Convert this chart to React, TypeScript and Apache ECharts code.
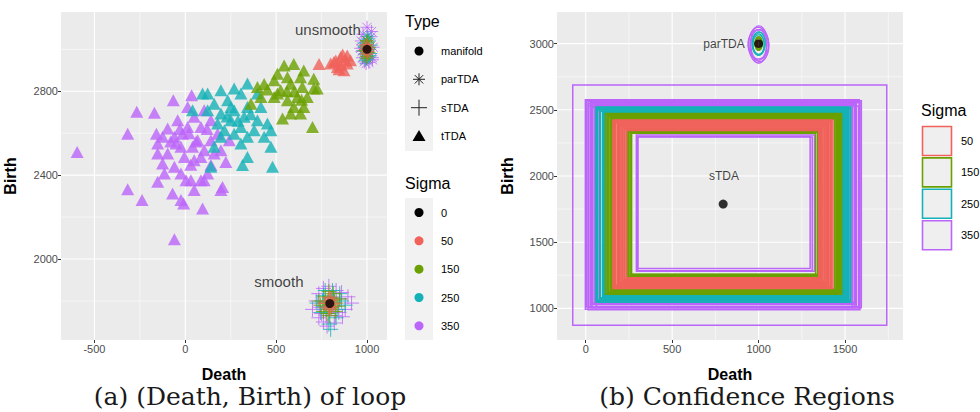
import React, { useEffect, useRef } from "react";
import * as echarts from "echarts";

// ---------- colours ----------
const SIGMA_COLORS: Record<string, string> = {
  "50": "#F0625A",
  "150": "#6AA000",
  "250": "#14B1B7",
  "350": "#BC65FA",
};
const FONT = "'Liberation Sans', Arial, sans-serif";

// ---------- axes / ticks ----------
const leftXTicks = [-500, 0, 500, 1000];
const leftXMinor = [-250, 250, 750];
const leftYTicks = [2000, 2400, 2800];
const leftYMinor = [1800, 2200, 2600, 3000];
const rightXTicks = [0, 500, 1000, 1500];
const rightXMinor = [250, 750, 1250, 1750];
const rightYTicks = [1000, 1500, 2000, 2500, 3000];
const rightYMinor = [1250, 1750, 2250, 2750];
const leftXRange = [-684, 1110];
const leftYRange = [1614, 3178];
const rightXRange = [-166, 1835];
const rightYRange = [761, 3239];

// ---------- panel (a): tTDA triangles (Death, Birth) ----------
const tTDA_350 = [
  [-595, 2511], [-317, 2598], [-267, 2702], [-170, 2697], [-66, 2757], [35, 2781], [-317, 2333], [-238, 2281],
  [-60, 2094], [-159, 2598], [-152, 2368], [-115, 2408], [-97, 2622], [-70, 2313], [-24, 2281], [-9, 2265],
  [49, 2329], [95, 2241], [196, 2329], [205, 2344], [49, 2471], [31, 2376], [86, 2376], [123, 2408],
  [141, 2448], [223, 2463], [196, 2519], [13, 2725], [-42, 2662], [-15, 2598], [-51, 2551], [-152, 2551],
  [-152, 2503], [-97, 2503], [-125, 2456], [-60, 2440], [-5, 2487], [68, 2567], [86, 2630], [13, 2630],
  [141, 2567], [104, 2519], [178, 2598], [141, 2662], [-60, 2583], [40, 2535], [-24, 2535], [86, 2487],
  [159, 2503], [242, 2567], [49, 2678], [104, 2709], [-125, 2583], [-24, 2408], [4, 2376], [104, 2376],
  [20, 2600], [60, 2560], [-30, 2620], [120, 2620], [30, 2450], [-80, 2560],
];
const tTDA_250 = [
  [40, 2710], [95, 2789], [196, 2805], [269, 2813], [342, 2837], [306, 2789], [233, 2757], [159, 2741],
  [123, 2710], [196, 2694], [269, 2710], [342, 2725], [416, 2725], [397, 2662], [324, 2678], [251, 2662],
  [178, 2646], [306, 2630], [379, 2614], [452, 2646], [471, 2614], [342, 2583], [434, 2583], [306, 2551],
  [159, 2535], [471, 2535], [342, 2487], [315, 2448], [480, 2440], [141, 2440], [215, 2614], [251, 2725],
  [397, 2789], [123, 2789], [269, 2598], [196, 2583], [230, 2680], [290, 2660], [360, 2690],
];
const tTDA_150 = [
  [361, 2741], [397, 2820], [434, 2835], [507, 2883], [544, 2923], [597, 2930], [652, 2899], [707, 2860],
  [707, 2813], [644, 2820], [580, 2836], [525, 2805], [489, 2773], [562, 2757], [617, 2773], [671, 2773],
  [597, 2725], [634, 2694], [580, 2694], [535, 2670], [700, 2630], [452, 2808], [507, 2789], [562, 2867],
  [634, 2867], [416, 2773], [489, 2852], [652, 2725], [726, 2813], [600, 2800], [560, 2800], [640, 2760],
];
const tTDA_50 = [
  [736, 2930], [818, 2940], [855, 2963], [891, 2971], [837, 2916], [891, 2932], [873, 2900], [909, 2948],
  [800, 2932], [855, 2924], [828, 2947], [882, 2947], [846, 2905], [866, 2975],
];

// ---------- panel (a): parTDA stars ----------
const parTDA_350 = [
  [968, 3040], [1030, 2960], [985, 2940], [1022, 3060], [1000, 3105], [972, 2990], [1034, 3010],
  [995, 2932], [1015, 3000], [978, 3072], [1030, 2950], [990, 3020], [1010, 2938], [965, 3005],
  [1025, 3085], [975, 2960],
];
const parTDA_250 = [
  [982, 3030], [1020, 2980], [995, 2955], [1010, 3050], [976, 2995], [1024, 3020], [990, 2948],
  [1004, 3062], [985, 3010], [1015, 2970], [1000, 3040], [1005, 2965],
];
const parTDA_150 = [
  [990, 3020], [1010, 2985], [995, 2965], [1005, 3035], [986, 2995], [1014, 3010], [1000, 2958], [998, 3042],
  [1004, 3000], [994, 2990],
];
const parTDA_50 = [[995, 3010], [1005, 2990], [1000, 3022], [1000, 2978], [992, 3000], [1008, 3000]];

// ---------- panel (a): sTDA crosses ----------
const sTDA_350 = [
  [700, 1760], [735, 1835], [760, 1700], [790, 1870], [820, 1695], [850, 1810], [880, 1760], [915, 1790],
  [740, 1770], [775, 1730], [830, 1850], [865, 1725], [720, 1800], [805, 1820], [845, 1745], [760, 1860],
  [895, 1820], [780, 1680], [815, 1775], [750, 1740], [770, 1795], [825, 1730], [860, 1840], [735, 1720],
];
const sTDA_250 = [
  [725, 1790], [760, 1825], [790, 1690], [810, 1850], [840, 1760], [860, 1800], [745, 1745], [775, 1760],
  [830, 1720], [800, 1665], [755, 1800], [850, 1835], [820, 1795], [770, 1850], [880, 1780], [790, 1740],
  [815, 1815], [765, 1775],
];
const sTDA_150 = [
  [745, 1780], [770, 1820], [795, 1730], [815, 1835], [840, 1775], [760, 1750], [825, 1750], [785, 1800],
  [805, 1770], [850, 1810], [790, 1845], [735, 1800], [820, 1805], [780, 1740], [800, 1815], [765, 1790],
  [830, 1790], [795, 1760],
];
const sTDA_50 = [
  [780, 1790], [810, 1785], [795, 1762], [795, 1815], [772, 1788], [818, 1790], [790, 1800], [800, 1775],
  [788, 1770], [803, 1805],
];

const manifoldLeft = [[1000, 3000], [795, 1788]];
const annotationsLeft = [
  { name: "unsmooth", value: [785, 3095] },
  { name: "smooth", value: [515, 1895] },
];

// ---------- panel (b): sTDA confidence boxes [death, birth, half-width] ----------
const rects_350 = [
  [833, 1780, 908],
  [790, 1785, 792], [800, 1775, 786], [785, 1790, 780], [810, 1780, 774], [795, 1795, 768], [780, 1770, 762],
  [805, 1788, 756], [790, 1782, 750], [815, 1790, 744], [775, 1778, 740], [800, 1800, 765], [820, 1770, 758],
  [795, 1780, 735], [805, 1792, 748], [785, 1776, 770], [812, 1786, 782],
  [805, 1790, 505], [808, 1795, 515], [800, 1800, 498],
];
const rects_250 = [
  [795, 1785, 736], [800, 1780, 732], [790, 1790, 728], [805, 1785, 724], [785, 1780, 720], [800, 1792, 716],
  [795, 1778, 712], [810, 1788, 708], [790, 1785, 704], [800, 1790, 700], [795, 1782, 696], [805, 1786, 692],
  [798, 1784, 688], [792, 1789, 684], [803, 1783, 680],
];
const rects_150 = [
  [798, 1790, 682], [793, 1786, 678], [802, 1784, 674], [796, 1790, 670], [800, 1788, 666], [795, 1785, 662],
  [803, 1790, 658], [797, 1787, 654], [800, 1783, 650], [795, 1789, 646], [799, 1786, 642],
  [798, 1790, 558], [802, 1792, 553], [796, 1788, 548], [800, 1790, 543], [803, 1793, 538], [797, 1790, 533],
];
const rects_50 = [
  [792, 1788, 556], [794, 1787, 561], [790, 1789, 566], [793, 1788, 571], [791, 1786, 576], [792, 1790, 581],
  [795, 1788, 586], [790, 1787, 591], [793, 1789, 596], [791, 1788, 601], [792, 1786, 606], [794, 1789, 611],
  [790, 1788, 616], [793, 1787, 621], [791, 1790, 626], [792, 1788, 631], [794, 1787, 636],
];

// ---------- panel (b): parTDA confidence ellipses [cx, cy, rx, ry] ----------
const ellipses_350 = [
  [1000, 2990, 58, 135], [995, 3000, 52, 125], [1005, 2985, 55, 120], [1002, 3005, 48, 130],
  [998, 2995, 60, 110], [1000, 2980, 45, 128],
];
const ellipses_250 = [[1000, 3000, 38, 88], [998, 2995, 34, 80], [1002, 3005, 36, 84], [1000, 2990, 32, 76]];
const ellipses_150 = [[1000, 3000, 22, 52], [999, 2998, 19, 46], [1001, 3003, 20, 49], [1000, 3000, 16, 40]];
const ellipses_50 = [[1000, 3000, 10, 24], [1000, 2998, 8, 20]];

const manifoldRight = [[1000, 3000], [795, 1788]];
const annotationsRight = [
  { name: "parTDA", value: [800, 3000] },
  { name: "sTDA", value: [800, 2000] },
];

const typeLegend = ["manifold", "parTDA", "sTDA", "tTDA"];
const sigmaLegendLeft = ["0", "50", "150", "250", "350"];
const sigmaLegendRight = ["50", "150", "250", "350"];
const captions = ["(a) (Death, Birth) of loop", "(b) Confidence Regions"];

const STAR = "path://M0,-10L0,10M-10,0L10,0M-7,-7L7,7M-7,7L7,-7";
const CROSS = "path://M-10,0L10,0M0,-10L0,10";

function gridLineSeries(idx: number, values: number[], dir: "v" | "h", major: boolean, lim: number) {
  return {
    type: "custom",
    xAxisIndex: idx,
    yAxisIndex: idx,
    z: 1,
    silent: true,
    data: values.map((v) => [v]),
    renderItem: (params: any, api: any) => {
      const v = api.value(0);
      const cs = params.coordSys;
      const lw = major ? 1.1 : 0.55;
      if (dir === "v") {
        const x = api.coord([v, lim])[0];
        return { type: "line", shape: { x1: x, y1: cs.y, x2: x, y2: cs.y + cs.height }, style: { stroke: "#ffffff", lineWidth: lw } };
      }
      const y = api.coord([lim, v])[1];
      return { type: "line", shape: { x1: cs.x, y1: y, x2: cs.x + cs.width, y2: y }, style: { stroke: "#ffffff", lineWidth: lw } };
    },
  };
}

function scatter(idx: number, data: number[][], symbol: string, size: any, color: string, stroke: boolean) {
  return {
    type: "scatter",
    xAxisIndex: idx,
    yAxisIndex: idx,
    z: 3,
    silent: true,
    symbol,
    symbolSize: size,
    data,
    itemStyle: stroke
      ? { color: "rgba(0,0,0,0)", borderColor: color, borderWidth: 1 }
      : { color, borderWidth: 0 },
  };
}

function rectSeries(data: number[][], color: string) {
  return {
    type: "custom",
    xAxisIndex: 1,
    yAxisIndex: 1,
    z: 3,
    silent: true,
    encode: { x: 0, y: 1 },
    data,
    renderItem: (_p: any, api: any) => {
      const d = api.value(0), b = api.value(1), c = api.value(2);
      const p1 = api.coord([d - c, b + c]);
      const p2 = api.coord([d + c, b - c]);
      return {
        type: "rect",
        shape: { x: p1[0], y: p1[1], width: p2[0] - p1[0], height: p2[1] - p1[1] },
        style: { fill: "none", stroke: color, lineWidth: 1.5 },
      };
    },
  };
}

function ellipseSeries(data: number[][], color: string) {
  return {
    type: "custom",
    xAxisIndex: 1,
    yAxisIndex: 1,
    z: 3,
    silent: true,
    encode: { x: 0, y: 1 },
    data,
    renderItem: (_p: any, api: any) => {
      const cx = api.value(0), cy = api.value(1), rx = api.value(2), ry = api.value(3);
      const pts: number[][] = [];
      for (let i = 0; i < 48; i++) {
        const t = (i / 48) * Math.PI * 2;
        pts.push(api.coord([cx + rx * Math.cos(t), cy + ry * Math.sin(t)]));
      }
      return { type: "polygon", shape: { points: pts }, style: { fill: "none", stroke: color, lineWidth: 1.1 } };
    },
  };
}

function labelSeries(idx: number, data: any[], fontSize: number) {
  return {
    type: "scatter",
    xAxisIndex: idx,
    yAxisIndex: idx,
    z: 5,
    silent: true,
    symbolSize: 1,
    itemStyle: { color: "rgba(0,0,0,0)" },
    data,
    label: {
      show: true,
      position: "inside",
      formatter: (p: any) => p.name,
      color: "#111",
      fontSize,
      fontFamily: FONT,
    },
  };
}

const tickLabel = (ticks: number[]) => ({
  customValues: ticks,
  formatter: (v: number) => String(v),
  color: "#4D4D4D",
  fontSize: 11,
  fontFamily: FONT,
  margin: 3,
});

function xAxis(idx: number, range: number[], ticks: number[], gap: number) {
  return {
    type: "value",
    gridIndex: idx,
    min: range[0],
    max: range[1],
    axisLine: { show: false, onZero: false },
    axisTick: { show: true, length: 3, lineStyle: { color: "#333" }, customValues: ticks },
    axisLabel: tickLabel(ticks),
    splitLine: { show: false },
    name: "Death",
    nameLocation: "middle",
    nameGap: gap,
    nameTextStyle: { fontWeight: "bold", fontSize: 16, color: "#000", fontFamily: FONT },
  };
}
function yAxis(idx: number, range: number[], ticks: number[], gap: number) {
  return {
    type: "value",
    gridIndex: idx,
    min: range[0],
    max: range[1],
    axisLine: { show: false, onZero: false },
    axisTick: { show: true, length: 3, lineStyle: { color: "#333" }, customValues: ticks },
    axisLabel: tickLabel(ticks),
    splitLine: { show: false },
    name: "Birth",
    nameLocation: "middle",
    nameGap: gap,
    nameRotate: 90,
    nameTextStyle: { fontWeight: "bold", fontSize: 16, color: "#000", fontFamily: FONT },
  };
}

function buildGraphics() {
  const g: any[] = [];
  const txt = (x: number, y: number, text: string, size: number, family = FONT, align = "left", fill = "#000") =>
    g.push({
      type: "text",
      x,
      y,
      silent: true,
      style: { text, fontSize: size, fontFamily: family, fill, align, verticalAlign: "middle" },
    });

  // Type legend
  txt(405, 21, "Type", 16);
  g.push({ type: "rect", shape: { x: 405, y: 37, width: 28, height: 114 }, style: { fill: "#F2F2F2" } });
  const rowsT = [51, 79.3, 107.7, 136];
  const kx = 419;
  g.push({ type: "circle", shape: { cx: kx, cy: rowsT[0], r: 4.5 }, style: { fill: "#000" } });
  const s = 6;
  [[0, -s, 0, s], [-s, 0, s, 0], [-s * 0.7, -s * 0.7, s * 0.7, s * 0.7], [-s * 0.7, s * 0.7, s * 0.7, -s * 0.7]].forEach((l) =>
    g.push({ type: "line", shape: { x1: kx + l[0], y1: rowsT[1] + l[1], x2: kx + l[2], y2: rowsT[1] + l[3] }, style: { stroke: "#222", lineWidth: 1 } })
  );
  const c = 8;
  [[0, -c, 0, c], [-c, 0, c, 0]].forEach((l) =>
    g.push({ type: "line", shape: { x1: kx + l[0], y1: rowsT[2] + l[1], x2: kx + l[2], y2: rowsT[2] + l[3] }, style: { stroke: "#222", lineWidth: 1 } })
  );
  g.push({ type: "polygon", shape: { points: [[kx, rowsT[3] - 6], [kx - 6.5, rowsT[3] + 5], [kx + 6.5, rowsT[3] + 5]] }, style: { fill: "#000" } });
  typeLegend.forEach((t, i) => txt(441, rowsT[i], t, 11));

  // Sigma legend (left)
  txt(405, 183, "Sigma", 16);
  g.push({ type: "rect", shape: { x: 405, y: 198, width: 28, height: 142 }, style: { fill: "#F2F2F2" } });
  const rowsS = [212.5, 240.8, 269.2, 297.5, 325.8];
  sigmaLegendLeft.forEach((t, i) => {
    const col = t === "0" ? "#000" : SIGMA_COLORS[t];
    g.push({ type: "circle", shape: { cx: kx, cy: rowsS[i], r: 4.5 }, style: { fill: col } });
    txt(441, rowsS[i], t, 11);
  });

  // Sigma legend (right)
  txt(921, 110, "Sigma", 16);
  sigmaLegendRight.forEach((t, i) => {
    const y0 = 126 + i * 31.4;
    g.push({ type: "rect", shape: { x: 922.5, y: y0 + 0.5, width: 29, height: 29 }, style: { fill: "#EFEFEF", stroke: SIGMA_COLORS[t], lineWidth: 1.6 } });
    txt(961, y0 + 15, t, 11);
  });

  // captions
  txt(250, 396, captions[0], 25, "'DejaVu Serif', serif", "center", "#1a1a1a");
  txt(747, 396, captions[1], 25, "'DejaVu Serif', serif", "center", "#1a1a1a");
  return g;
}

export default function App() {
  const ref = useRef<HTMLDivElement>(null);
  useEffect(() => {
    if (!ref.current) return;
    const chart = echarts.init(ref.current, null, { renderer: "svg" });
    const sig = ["350", "250", "150", "50"];
    const tri = [tTDA_350, tTDA_250, tTDA_150, tTDA_50];
    const star = [parTDA_350, parTDA_250, parTDA_150, parTDA_50];
    const cross = [sTDA_350, sTDA_250, sTDA_150, sTDA_50];
    const rects = [rects_350, rects_250, rects_150, rects_50];
    const ells = [ellipses_350, ellipses_250, ellipses_150, ellipses_50];

    const series: any[] = [
      gridLineSeries(0, leftXMinor, "v", false, leftYRange[0]),
      gridLineSeries(0, leftYMinor, "h", false, leftXRange[0]),
      gridLineSeries(0, leftXTicks, "v", true, leftYRange[0]),
      gridLineSeries(0, leftYTicks, "h", true, leftXRange[0]),
      gridLineSeries(1, rightXMinor, "v", false, rightYRange[0]),
      gridLineSeries(1, rightYMinor, "h", false, rightXRange[0]),
      gridLineSeries(1, rightXTicks, "v", true, rightYRange[0]),
      gridLineSeries(1, rightYTicks, "h", true, rightXRange[0]),
    ];
    sig.forEach((s, i) => {
      const col = SIGMA_COLORS[s];
      series.push(scatter(0, tri[i], "triangle", [13, 12], col, false));
      series.push(scatter(0, star[i], STAR, 13, col, true));
      series.push(scatter(0, cross[i], CROSS, 15, col, true));
    });
    series.push(scatter(0, manifoldLeft, "circle", 9, "#000", false));
    series.push(labelSeries(0, annotationsLeft, 15));

    sig.forEach((s, i) => series.push(rectSeries(rects[i], SIGMA_COLORS[s])));
    sig.forEach((s, i) => series.push(ellipseSeries(ells[i], SIGMA_COLORS[s])));
    series.push(scatter(1, manifoldRight, "circle", 9, "#000", false));
    series.push(labelSeries(1, annotationsRight, 12));

    chart.setOption({
      animation: false,
      backgroundColor: "#ffffff",
      grid: [
        { left: 61, top: 12, width: 326, height: 328, show: true, backgroundColor: "#EBEBEB", borderWidth: 0 },
        { left: 557, top: 12, width: 346, height: 328, show: true, backgroundColor: "#EBEBEB", borderWidth: 0 },
      ],
      xAxis: [xAxis(0, leftXRange, leftXTicks, 26), xAxis(1, rightXRange, rightXTicks, 26)],
      yAxis: [yAxis(0, leftYRange, leftYTicks, 43), yAxis(1, rightYRange, rightYTicks, 42)],
      series,
      graphic: buildGraphics(),
    });
    return () => chart.dispose();
  }, []);
  return <div ref={ref} style={{ position: "absolute", left: 0, top: 0, width: 980, height: 412 }} />;
}
